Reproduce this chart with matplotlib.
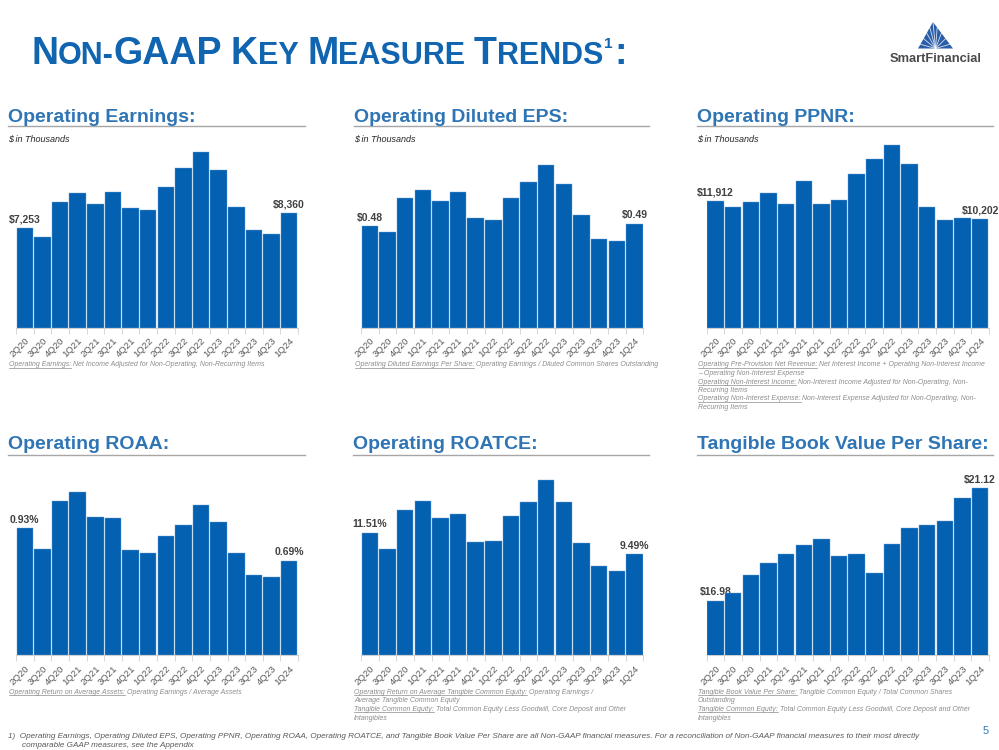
import numpy as np
import matplotlib
matplotlib.use("agg")
import matplotlib.pyplot as plt
from matplotlib.patches import Polygon

plt.rcParams["font.family"] = ["Liberation Sans", "DejaVu Sans"]

W, H = 999, 750

quarters = ["2Q20", "3Q20", "4Q20", "1Q21", "2Q21", "3Q21", "4Q21", "1Q22",
            "2Q22", "3Q22", "4Q22", "1Q23", "2Q23", "3Q23", "4Q23", "1Q24"]

earnings = [7253, 6598, 9146, 9800, 9000, 9874, 8709, 8564,
            10238, 11620, 12785, 11450, 8782, 7132, 6817, 8360]
eps = [0.48, 0.45, 0.61, 0.65, 0.60, 0.64, 0.52, 0.51,
       0.61, 0.69, 0.77, 0.68, 0.53, 0.42, 0.41, 0.49]
ppnr = [11912, 11348, 11818, 12665, 11630, 13793, 11630, 12006,
        14451, 15862, 17179, 15392, 11316, 10094, 10313, 10202]
roaa = [0.93, 0.78, 1.13, 1.19, 1.01, 1.00, 0.77, 0.75,
        0.87, 0.95, 1.10, 0.97, 0.75, 0.59, 0.57, 0.69]
roatce = [11.51, 10.00, 13.67, 14.52, 12.92, 13.30, 10.66, 10.76,
          13.11, 14.43, 16.46, 14.43, 10.54, 8.44, 7.93, 9.49]
tbvps = [16.98, 17.27, 17.93, 18.37, 18.70, 19.03, 19.26, 18.63,
         18.70, 18.00, 19.08, 19.65, 19.77, 19.93, 20.75, 21.12]

titles = ["Operating Earnings:", "Operating Diluted EPS:", "Operating PPNR:",
          "Operating ROAA:", "Operating ROATCE:", "Tangible Book Value Per Share:"]

notes = [
    [("Operating Earnings:", " Net Income Adjusted for Non-Operating, Non-Recurring Items")],
    [("Operating Diluted Earnings Per Share:", " Operating Earnings / Diluted Common Shares Outstanding")],
    [("Operating Pre-Provision Net Revenue:", " Net Interest Income + Operating Non-Interest Income"),
     ("", "\u2013 Operating Non-Interest Expense"),
     ("Operating Non-Interest Income:", " Non-Interest Income Adjusted for Non-Operating, Non-"),
     ("", "Recurring Items"),
     ("Operating Non-Interest Expense:", " Non-Interest Expense Adjusted for Non-Operating, Non-"),
     ("", "Recurring Items")],
    [("Operating Return on Average Assets:", " Operating Earnings / Average Assets")],
    [("Operating Return on Average Tangible Common Equity:", " Operating Earnings /"),
     ("", "Average Tangible Common Equity"),
     ("Tangible Common Equity:", " Total Common Equity Less Goodwill, Core Deposit and Other"),
     ("", "Intangibles")],
    [("Tangible Book Value Per Share:", " Tangible Common Equity / Total Common Shares"),
     ("", "Outstanding"),
     ("Tangible Common Equity:", " Total Common Equity Less Goodwill, Core Deposit and Other"),
     ("", "Intangibles")],
]

BAR = "#0460B0"
HEAD = "#2F75B5"
TITLE = "#1064B0"
NOTE = "#8C8C8C"

fig = plt.figure(figsize=(W / 100, H / 100), dpi=100)
renderer = fig.canvas.get_renderer()


def fx(x):
    return x / W


def fy(y):
    return 1 - y / H


def put(x, y, s, **kw):
    t = fig.text(fx(x), fy(y), s, **kw)
    return t, t.get_window_extent(renderer)


# title in small caps
pieces = [("N", 27), ("ON-", 22), ("GAAP", 27), (" ", 22), ("K", 27), ("EY", 22), (" ", 22),
          ("M", 27), ("EASURE", 22), (" ", 22), ("T", 27), ("RENDS", 22)]
x = 31
for s, size in pieces:
    if s == " ":
        x += 0.278 * size * 100 / 72
        continue
    t, bb = put(x, 63.5, s, fontsize=size, fontweight="bold", color=TITLE, va="baseline")
    x = bb.x1
t, bb = put(x + 1, 48, "1", fontsize=11, fontweight="bold", color=TITLE, va="baseline")
put(bb.x1 + 1.5, 63.5, ":", fontsize=27, fontweight="bold", color=TITLE, va="baseline")

# logo
ax_logo = fig.add_axes([0, 0, 1, 1], zorder=-5)
ax_logo.set_xlim(0, W)
ax_logo.set_ylim(H, 0)
ax_logo.axis("off")
ax_logo.add_patch(Polygon([(933, 22), (918, 48.5), (953, 48.5)], closed=True,
                          facecolor="#2A5DA8", edgecolor="none"))
for k in np.linspace(0.08, 0.92, 9):
    if k < 0.5:
        px_, py_ = 918 + (933 - 918) * (k / 0.5), 48.5 - 26.5 * (k / 0.5)
    else:
        px_, py_ = 933 + (953 - 933) * ((k - 0.5) / 0.5), 22 + 26.5 * ((k - 0.5) / 0.5)
    ax_logo.plot([935.5, px_], [48.5, py_], color="white", lw=0.6, alpha=0.8)
put(936, 62.5, "SmartFinancial", fontsize=9.3, fontweight="bold", color="#4A4A4A",
    ha="center", va="baseline")

# panels: (left, right, top, bottom) in pixels, y-limits, label format
panels = [
    (earnings, (16, 298, 142, 327.7), (0, 13513), "${:,.0f}"),
    (eps, (361, 643.3, 142, 327.7), (0, 0.8767), "${:.2f}"),
    (ppnr, (706.7, 989, 142, 327.7), (0, 17463), "${:,.0f}"),
    (roaa, (16, 298, 478, 655.3), (0, 1.295), "{:.2f}%"),
    (roatce, (361, 643.3, 478, 655.3), (0, 16.68), "{:.2f}%"),
    (tbvps, (706.7, 989, 478, 655.3), (14.974, 21.50), "${:.2f}"),
]
heads = [(8, 305, 121.7, 126), (354, 649, 121.7, 126), (697, 993, 121.7, 126),
         (8, 305, 449.3, 454.7), (353, 649, 449.3, 454.7), (697, 993, 449.3, 454.7)]
note_y = [366.5, 366.5, 366.5, 694, 694, 694]

for i, (vals, box, ylim, fmt) in enumerate(panels):
    l, r, t, b = box
    ax = fig.add_axes([fx(l), fy(b), (r - l) / W, (b - t) / H])
    xs = np.arange(len(quarters))
    ax.bar(xs, vals, width=0.93, color=BAR, edgecolor="#6FA8DC", linewidth=0.3, zorder=3)
    ax.set_xlim(-0.5, len(quarters) - 0.5)
    ax.set_ylim(*ylim)
    for j in (0, len(vals) - 1):
        ax.annotate(fmt.format(vals[j]), (xs[j], vals[j]), xytext=(0, 2.5),
                    textcoords="offset points", ha="center", va="bottom",
                    fontsize=7.5, fontweight="bold", color="#404040", zorder=1)
    for s in ("top", "right", "left"):
        ax.spines[s].set_visible(False)
    ax.spines["bottom"].set_color("#D0D0D0")
    ax.set_yticks([])
    ax.set_xticks(xs)
    ax.set_xticklabels(quarters, rotation=45, ha="right", rotation_mode="anchor",
                       fontsize=6.8, color="#595959")
    ax.tick_params(axis="x", which="major", length=0, pad=6)
    ax.set_xticks(np.arange(-0.5, len(quarters)), minor=True)
    ax.tick_params(axis="x", which="minor", length=4, color="#D0D0D0")
    ax.patch.set_alpha(0)

    hx0, hx1, hy, ly = heads[i]
    put(hx0, hy, titles[i], fontsize=14, fontweight="bold", color=HEAD, va="baseline")
    ax_logo.plot([hx0, hx1], [ly, ly], color="#A6A6A6", lw=1.0)
    if i < 3:
        put(hx0, 141, "$ in Thousands", fontsize=6.5, style="italic", color="#262626",
            va="baseline")

    ny = note_y[i]
    for under, rest in notes[i]:
        nx = hx0 + 1
        if under:
            tt, bb = put(nx, ny, under, fontsize=5.0, style="italic", color=NOTE, va="baseline")
            ax_logo.plot([nx, bb.x1], [ny + 1.2, ny + 1.2], color=NOTE, lw=0.5)
            nx = bb.x1
        put(nx, ny, rest, fontsize=5.0, style="italic", color=NOTE, va="baseline")
        ny += 8.5

put(8, 738, "1)  Operating Earnings, Operating Diluted EPS, Operating PPNR, Operating ROAA, "
    "Operating ROATCE, and Tangible Book Value Per Share are all Non-GAAP financial measures. "
    "For a reconciliation of Non-GAAP financial measures to their most directly",
    fontsize=5.85, style="italic", color="#595959", va="baseline")
put(22, 747, "comparable GAAP measures, see the Appendix",
    fontsize=5.85, style="italic", color="#595959", va="baseline")
put(986, 734, "5", fontsize=8, color=HEAD, ha="center", va="baseline")

fig.savefig("out.png", dpi=100)
